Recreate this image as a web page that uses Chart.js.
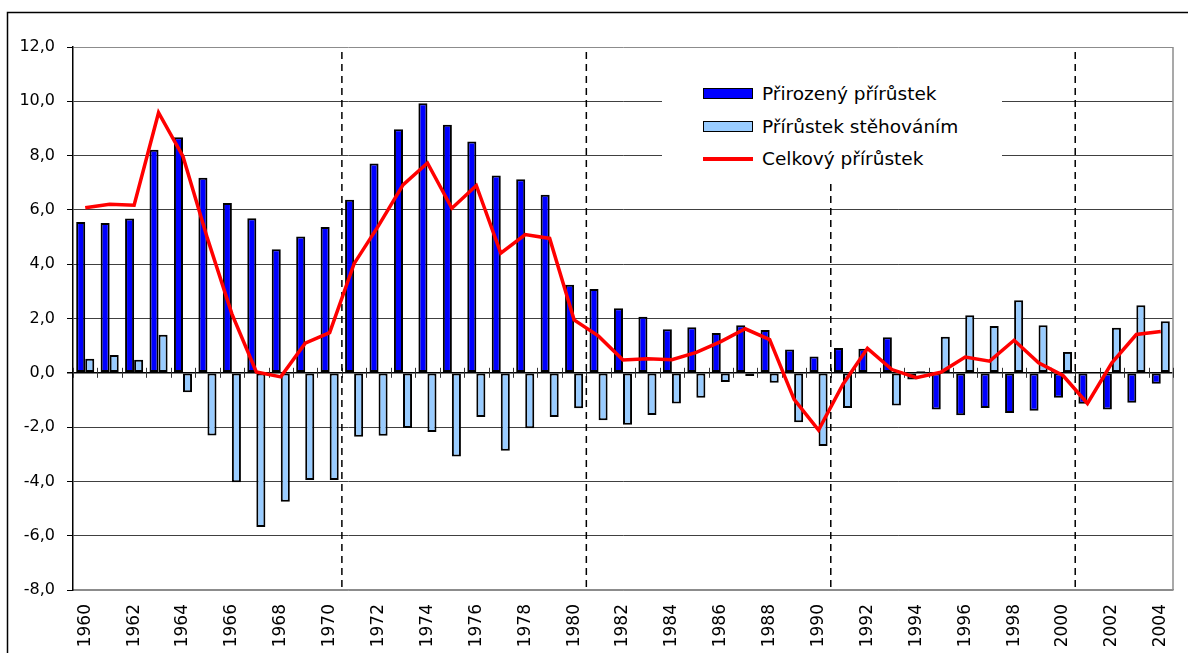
<!DOCTYPE html>
<html>
<head>
<meta charset="utf-8">
<script src="https://cdn.jsdelivr.net/npm/chart.js@4"></script>
<style>
  body { margin: 0; background: #fff; }
  #wrap { position: relative; width: 1188px; height: 653px; }
  #legend {
    position: absolute; left: 662px; top: 49px; width: 340px; height: 135px;
    background: #fff; font-family: "DejaVu Sans", sans-serif; font-size: 18.5px; color: #000;
  }
  .row { position: absolute; left: 41px; height: 22px; line-height: 22px; white-space: nowrap; }
  .sw { position: absolute; left: 0; width: 50px; box-sizing: border-box; }
  .row span { position: absolute; left: 59px; top: 0; }
</style>
</head>
<body>
<div id="wrap">
  <canvas id="chart" width="1188" height="653"></canvas>
  <div id="legend"></div>
</div>
<script>
// data
const years = ['1960','1961','1962','1963','1964','1965','1966','1967','1968','1969','1970',
  '1971','1972','1973','1974','1975','1976','1977','1978','1979','1980',
  '1981','1982','1983','1984','1985','1986','1987','1988','1989','1990',
  '1991','1992','1993','1994','1995','1996','1997','1998','1999','2000',
  '2001','2002','2003','2004'];
const natural = [5.55,5.52,5.68,8.22,8.68,7.18,6.25,5.69,4.55,5.02,5.37,
  6.37,7.71,8.97,9.93,9.14,8.52,7.27,7.13,6.56,3.24,
  3.09,2.38,2.06,1.60,1.68,1.47,1.75,1.58,0.86,0.60,
  0.91,0.89,1.31,-0.25,-1.35,-1.56,-1.30,-1.48,-1.40,-0.92,
  -1.14,-1.35,-1.10,-0.40];
const migration = [0.52,0.66,0.48,1.40,-0.72,-2.31,-4.03,-5.68,-4.75,-3.95,-3.95,
  -2.36,-2.32,-2.03,-2.18,-3.08,-1.63,-2.87,-2.04,-1.63,-1.31,
  -1.75,-1.91,-1.55,-1.13,-0.92,-0.34,-0.12,-0.37,-1.82,-2.70,
  -1.30,0.03,-1.20,0.06,1.33,2.12,1.72,2.67,1.75,0.77,
  0.02,1.66,2.49,1.90];
const total = [6.08,6.21,6.17,9.58,7.97,4.95,2.17,0.03,-0.15,1.09,1.48,
  4.02,5.42,6.92,7.73,6.06,6.90,4.41,5.09,4.95,1.95,
  1.35,0.47,0.52,0.48,0.75,1.15,1.62,1.22,-0.98,-2.11,
  -0.42,0.90,0.12,-0.18,0.02,0.58,0.43,1.20,0.37,-0.10,
  -1.13,0.37,1.41,1.52];
const seriesNames = ['Přirozený přírůstek', 'Přírůstek stěhováním', 'Celkový přírůstek'];
const dividerYears = ['1970', '1980', '1990', '2000'];   // dashed line after these years

const FONT = '"DejaVu Sans", sans-serif';

// frame, right border, zero-line ticks
const decor = {
    id: 'decor',
    beforeDraw(chart) {
        const ctx = chart.ctx;
        ctx.save();
        ctx.fillStyle = '#fff';
        ctx.fillRect(0, 0, chart.width, chart.height);
        ctx.strokeStyle = '#000';
        ctx.lineWidth = 1.5;
        ctx.beginPath();
        ctx.moveTo(7.5, chart.height);
        ctx.lineTo(7.5, 12.5);
        ctx.lineTo(chart.width, 12.5);
        ctx.stroke();
        ctx.restore();
    },
    beforeDatasetsDraw(chart) {
        const ctx = chart.ctx, x = chart.scales.x, y = chart.scales.y, a = chart.chartArea;
        ctx.save();
        ctx.strokeStyle = '#8c8c8c';
        ctx.lineWidth = 1.5;
        ctx.beginPath();
        ctx.moveTo(a.right, a.top);
        ctx.lineTo(a.right, a.bottom);
        ctx.stroke();
        const zero = y.getPixelForValue(0);
        ctx.strokeStyle = '#333';
        ctx.lineWidth = 1;
        ctx.beginPath();
        for (let i = 0; i <= years.length; i++) {
            const px = Math.round(x.getPixelForValue(i - 0.5)) + 0.5;
            ctx.moveTo(px, zero - 5);
            ctx.lineTo(px, zero + 5);
        }
        ctx.stroke();
        ctx.restore();
    },
    beforeDatasetDraw(chart, args) {
        if (args.meta.type !== 'line') return;
        const ctx = chart.ctx, x = chart.scales.x, a = chart.chartArea;
        ctx.save();
        ctx.strokeStyle = '#000';
        ctx.lineWidth = 1.5;
        ctx.setLineDash([7, 5]);
        dividerYears.forEach(yr => {
            const px = x.getPixelForValue(years.indexOf(yr) + 0.5);
            ctx.beginPath();
            ctx.moveTo(px, a.top + 5);
            ctx.lineTo(px, a.bottom);
            ctx.stroke();
        });
        ctx.restore();
    }
};

const ctx = document.getElementById('chart').getContext('2d');
const chart = new Chart(ctx, {
    type: 'bar',
    data: {
        labels: years,
        datasets: [{
            label: seriesNames[0],
            data: natural,
            backgroundColor: '#0000ff',
            borderColor: '#000',
            borderWidth: 2,
            borderSkipped: false,
            categoryPercentage: 0.74,
            barPercentage: 1.0,
            order: 1
        }, {
            label: seriesNames[1],
            data: migration,
            backgroundColor: '#99ccff',
            borderColor: '#000',
            borderWidth: 2,
            borderSkipped: false,
            categoryPercentage: 0.74,
            barPercentage: 1.0,
            order: 1
        }, {
            type: 'line',
            label: seriesNames[2],
            data: total,
            borderColor: '#ff0000',
            borderWidth: 3.5,
            pointRadius: 0,
            tension: 0,
            order: 0
        }]
    },
    options: {
        responsive: false,
        animation: false,
        layout: { padding: { top: 47, right: 15, left: 0, bottom: 0 } },
        plugins: {
            legend: { display: false },
            tooltip: { enabled: false }
        },
        scales: {
            x: {
                grid: { display: false },
                border: { display: true, color: '#8c8c8c', width: 1.5 },
                ticks: {
                    autoSkip: false,
                    maxRotation: 90,
                    minRotation: 90,
                    padding: 6,
                    color: '#000',
                    font: { family: FONT, size: 17 },
                    callback: (v, i) => (i % 2 === 0 ? years[i] : '')
                },
                afterFit: (s) => { s.height = 63; }
            },
            y: {
                min: -8,
                max: 12,
                ticks: {
                    stepSize: 2,
                    padding: 12,
                    color: '#000',
                    font: { family: FONT, size: 16 },
                    callback: (v) => v.toFixed(1).replace('.', ',')
                },
                grid: {
                    color: (c) => (c.tick.value === 0 ? '#000' : (c.tick.value === 12 || c.tick.value === -8 ? '#8c8c8c' : '#404040')),
                    lineWidth: (c) => (c.tick.value === 0 ? 1.5 : 1),
                    tickLength: 6,
                    tickColor: '#000'
                },
                border: { display: true, color: '#000', width: 1.5 },
                afterFit: (s) => { s.width = 73; }
            }
        }
    },
    plugins: [decor]
});

// legend drawn as HTML over the plot
const legend = document.getElementById('legend');
const swatches = [
    { top: 45, style: 'height:11px;top:-6px;background:#0000ff;border:1.5px solid #000;' },
    { top: 78, style: 'height:11px;top:-6px;background:#99ccff;border:1.5px solid #000;' },
    { top: 110, style: 'height:4px;top:-2px;background:#ff0000;' }
];
seriesNames.forEach((name, i) => {
    const row = document.createElement('div');
    row.className = 'row';
    row.style.top = (swatches[i].top - 11) + 'px';
    row.innerHTML = '<div class="sw" style="margin-top:11px;' + swatches[i].style + '"></div><span>' + name + '</span>';
    legend.appendChild(row);
});
</script>
</body>
</html>
